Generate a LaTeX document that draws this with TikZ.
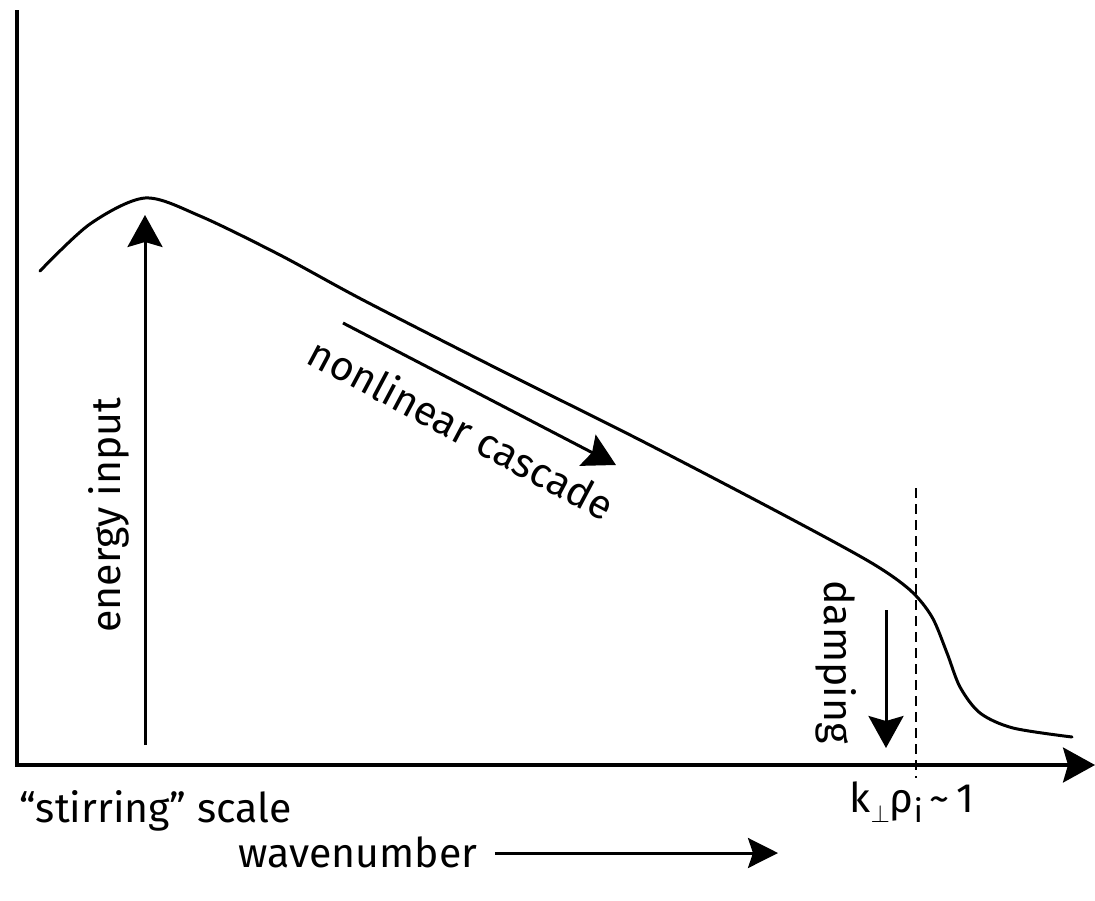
\documentclass[tikz,border=0pt]{standalone}
\usepackage{fontspec}
\setmainfont{Fira Sans}
\usetikzlibrary{arrows.meta, positioning}

\begin{document}
\begin{tikzpicture}[x=1pt, y=-1pt, line width=3.3pt,
    bigtip/.style={-{Stealth[length=32pt, width=35pt, inset=5pt]}},
    lbl/.style={font=\fontsize{41}{48}\selectfont, inner sep=0pt}]
    \useasboundingbox (0,0) rectangle (1095,900);
    % axes
    \coordinate (top) at (17,10);
    \coordinate (origin) at (17,765);
    \coordinate (xend) at (1095,765);
    \draw[bigtip, line join=miter] (top) -- (origin) -- (xend);
    % spectrum
    \draw[line cap=round, line width=3pt] plot[smooth, tension=0.5] coordinates {
        (40,271) (90,224) (145,198) (200,216) (280,255) (363,300)
        (500,370) (640,440) (780,513) (870,562) (910,590) (932,617)
        (947,653) (960,687) (980,713) (1013,728) (1072,737)};
    % energy input
    \coordinate (ein0) at (145,745);
    \coordinate (ein1) at (145,215);
    \draw[bigtip, line width=3pt] (ein0) -- (ein1);
    \node[lbl, rotate=90] (energy) at (109,515) {energy input};
    % cascade
    \coordinate (cas0) at (343,323);
    \coordinate (cas1) at (616,465);
    \draw[bigtip, line width=3pt] (cas0) -- (cas1);
    \node[lbl, rotate=-28] (cascade) at (462,428) {nonlinear cascade};
    % damping
    \coordinate (dmp0) at (886,610);
    \coordinate (dmp1) at (886,748);
    \draw[bigtip, line width=3pt] (dmp0) -- (dmp1);
    \node[lbl, rotate=-90] (damping) at (836,662) {damping};
    % dissipation scale
    \coordinate (kr0) at (916,488);
    \coordinate (kr1) at (916,778);
    \draw[line width=1.3pt, dash pattern=on 10pt off 6pt] (kr0) -- (kr1);
    \node[lbl, anchor=base] (kperp) at (912,812)
        {k\raisebox{-10pt}{\fontsize{32}{32}\selectfont$\perp$}ρ\raisebox{-10pt}{\fontsize{32}{32}\selectfont i}\,\textasciitilde\,1};
    % labels below
    \node[lbl, anchor=base west] (stirring) at (18,822) {``stirring'' scale};
    \node[lbl, anchor=base west] (wavenum) at (237,867) {wavenumber};
    \coordinate (wv1) at (778,853);
    \draw[-{Stealth[length=30pt, width=30pt, inset=5pt]}, line width=3pt]
        ([xshift=16pt]wavenum.east |- wv1) -- (wv1);
\end{tikzpicture}
\end{document}
